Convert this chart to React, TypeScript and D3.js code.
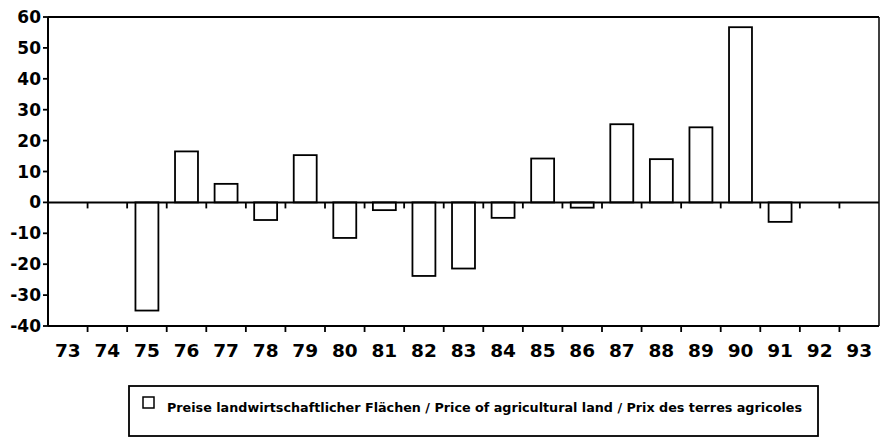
import React from "react";
import * as d3 from "d3";

const years = ["73","74","75","76","77","78","79","80","81","82","83","84","85","86","87","88","89","90","91","92","93"];
const values: (number | null)[] = [null, null, -35, 16.5, 6, -5.7, 15.3, -11.5, -2.5, -23.8, -21.4, -5, 14.2, -1.7, 25.3, 14, 24.3, 56.7, -6.3, null, null];
const yTicks = [60, 50, 40, 30, 20, 10, 0, -10, -20, -30, -40];
const legendLabel = "Preise landwirtschaftlicher Flächen / Price of agricultural land / Prix des terres agricoles";

const W = 880, H = 437;
const left = 48, right = 879, top = 17, bottom = 326;

export default function App() {
  const x = d3.scaleBand<string>().domain(years).range([left, right]).paddingInner(0.42).paddingOuter(0.21);
  const y = d3.scaleLinear().domain([-40, 60]).range([bottom, top]);
  const step = (right - left) / years.length;
  const font = "'DejaVu Sans', 'Liberation Sans', Arial, sans-serif";
  const bounds = d3.range(years.length + 1).map((i) => left + i * step);
  return (
    <svg width={W} height={H} style={{ position: "absolute", left: 0, top: 0, background: "#fff" }}>
      {values.map((v, i) =>
        v === null ? null : (
          <rect key={i} x={x(years[i])} y={y(Math.max(0, v))} width={x.bandwidth()} height={Math.abs(y(v) - y(0))}
            fill="#fff" stroke="#000" strokeWidth={1.8} />
        )
      )}
      <line x1={left} x2={right} y1={top} y2={top} stroke="#000" strokeWidth={2} />
      <line x1={right} x2={right} y1={top} y2={bottom} stroke="#000" strokeWidth={1.5} />
      <line x1={left} x2={left} y1={top} y2={bottom} stroke="#000" strokeWidth={2} />
      <line x1={left} x2={right} y1={bottom} y2={bottom} stroke="#000" strokeWidth={2} />
      <line x1={left} x2={right} y1={y(0)} y2={y(0)} stroke="#000" strokeWidth={2} />
      {bounds.slice(1, -1).map((bx, i) => (
        <g key={i}>
          <line x1={bx} x2={bx} y1={y(0)} y2={y(0) + 6} stroke="#000" strokeWidth={1.8} />
          <line x1={bx} x2={bx} y1={bottom} y2={bottom + 6} stroke="#000" strokeWidth={1.8} />
        </g>
      ))}
      {yTicks.map((t) => (
        <g key={t}>
          <line x1={left - 5} x2={left} y1={y(t)} y2={y(t)} stroke="#000" strokeWidth={1.8} />
          <text x={left - 7} y={y(t) + 6} textAnchor="end" fontFamily={font} fontWeight="bold" fontSize={17}>{t}</text>
        </g>
      ))}
      {years.map((yr) => (
        <text key={yr} x={(x(yr) as number) + x.bandwidth() / 2} y={357} textAnchor="middle" fontFamily={font} fontWeight="bold" fontSize={18.5}>{yr}</text>
      ))}
      <rect x={129} y={386} width={689} height={50} fill="none" stroke="#000" strokeWidth={1.8} />
      <rect x={143} y={397} width={11} height={11} fill="#fff" stroke="#000" strokeWidth={1.5} />
      <text x={167} y={412} fontFamily={font} fontWeight="bold" fontSize={13} textLength={635} lengthAdjust="spacingAndGlyphs">{legendLabel}</text>
    </svg>
  );
}
